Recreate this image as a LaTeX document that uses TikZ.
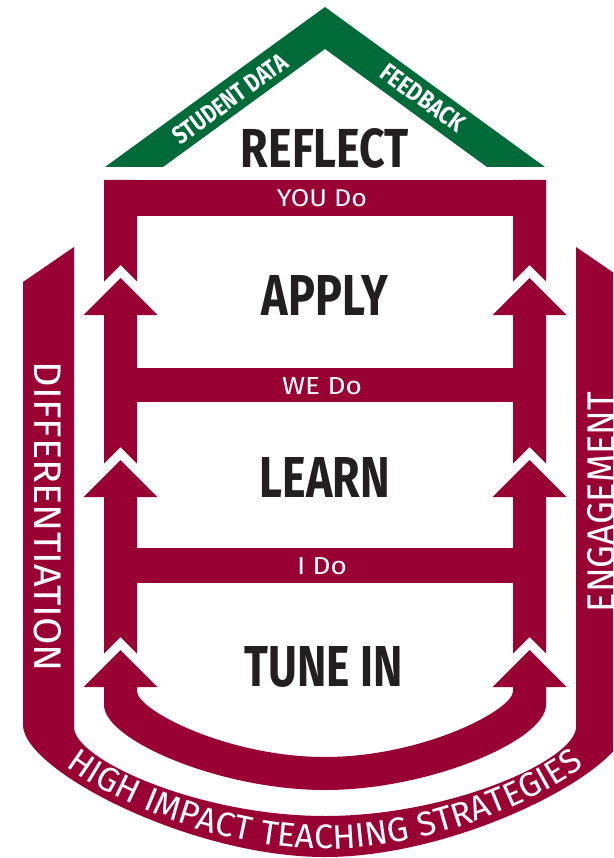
\documentclass[tikz,border=0pt]{standalone}
\usepackage{fontspec}
\usepackage{graphicx}
\usetikzlibrary{decorations.text}
\setmainfont{Open Sans}
\newfontfamily\titlefont{Fira Sans}
\newfontfamily\bandfont{Fira Sans}
\newfontfamily\arcfont[LetterSpace=3]{Fira Sans}
\newfontfamily\dofont{Fira Sans}
\definecolor{crim}{RGB}{153,0,51}
\definecolor{roofgreen}{RGB}{0,106,56}
\definecolor{ink}{RGB}{35,31,32}
% arrow segment: #1 = centre x, #2 = head tip y, #3 = next head tip y (notch)
\newcommand\postseg[3]{%
  \fill[crim] (#1,#2) -- ++(37,37) -- ++(-20.5,0) -- (#1+16.5,#3+3.5) -- (#1,#3-13)
    -- (#1-16.5,#3+3.5) -- (#1-16.5,#2+37) -- ++(-20.5,0) -- cycle;}
\newcommand\topseg[2]{%
  \fill[crim] (#1-16.5,180) -- (#1+16.5,180) -- (#1+16.5,#2+3.5) -- (#1,#2-13)
    -- (#1-16.5,#2+3.5) -- cycle;}
\tikzset{
  title/.style={text=ink, inner sep=0pt},
  wtext/.style={text=white, inner sep=0pt}
}
\begin{document}
\begin{tikzpicture}[x=1pt,y=-1pt]
\useasboundingbox (0,0) rectangle (613,858);
\clip (0,0) rectangle (613,858);
% roof
\fill[roofgreen] (105,167) -- (325,7) -- (545,167) -- (487,167) -- (325,49) -- (163,167) -- cycle;
\node[wtext, rotate=36] (sdata) at (230,99) {\resizebox{135pt}{18pt}{\titlefont\bfseries STUDENT DATA}};
\node[wtext, rotate=-36] (fback) at (423,98) {\resizebox{97pt}{18pt}{\titlefont\bfseries FEEDBACK}};
\node[title] (reflect) at (325,148) {\resizebox{168pt}{39pt}{\titlefont\bfseries REFLECT}};
% outer band
\fill[crim] (23,282) -- (74,247) -- (74,727) .. controls (74,760) and (200,816) .. (325,816)
  .. controls (450,816) and (576,760) .. (576,727) -- (576,247) -- (627,282) -- (627,725)
  .. controls (627,770) and (460,857) .. (325,857) .. controls (190,857) and (23,770) .. (23,725) -- cycle;
\path[decorate, decoration={text along path,
   text={|\arcfont\fontsize{34}{34}\selectfont|HIGH IMPACT TEACHING STRATEGIES},
   text align=center, text color=white}]
  (36,640) -- (36,726) .. controls (36,769) and (192,849) .. (325,849)
  .. controls (458,849) and (614,769) .. (614,726) -- (614,640);
\node[wtext, rotate=-90] (diff) at (48,517) {\resizebox{310pt}{27pt}{\bandfont DIFFERENTIATION}};
\node[wtext, rotate=90] (engage) at (601,502) {\resizebox{220pt}{27pt}{\bandfont ENGAGEMENT}};
% bars
\fill[crim] (104,180) rectangle (546,216);
\fill[crim] (104,368) rectangle (546,402);
\fill[crim] (104,548) rectangle (546,583);
% posts with arrows
\topseg{120.5}{278}
\topseg{529.5}{278}
\postseg{120.5}{278}{460}
\postseg{529.5}{278}{460}
\postseg{120.5}{460}{650}
\postseg{529.5}{460}{650}
% bottom U arrow
\fill[crim] (120.5,650) -- (157.5,687) -- (137,687) -- (137,692)
  .. controls (140,712) and (230,757) .. (325,757)
  .. controls (420,757) and (510,712) .. (513,692) -- (513,687) -- (492.5,687)
  -- (529.5,650) -- (566.5,687) -- (546,687) -- (546,705)
  .. controls (546,740) and (430,790) .. (325,790)
  .. controls (220,790) and (104,740) .. (104,705) -- (104,687) -- (83.5,687) -- cycle;
% bar labels
\node[wtext] (youdo) at (322,198) {\resizebox{90pt}{17pt}{\dofont YOU Do}};
\node[wtext] (wedo) at (322,386) {\resizebox{80pt}{17pt}{\dofont WE Do}};
\node[wtext] (ido) at (322,566) {\resizebox{50pt}{17pt}{\dofont I Do}};
% titles
\node[title] (apply) at (325,295) {\resizebox{126pt}{40pt}{\titlefont\bfseries APPLY}};
\node[title] (learn) at (325,477) {\resizebox{130pt}{40pt}{\titlefont\bfseries LEARN}};
\node[title] (tunein) at (324,667) {\resizebox{158pt}{40pt}{\titlefont\bfseries TUNE IN}};
\end{tikzpicture}
\end{document}
